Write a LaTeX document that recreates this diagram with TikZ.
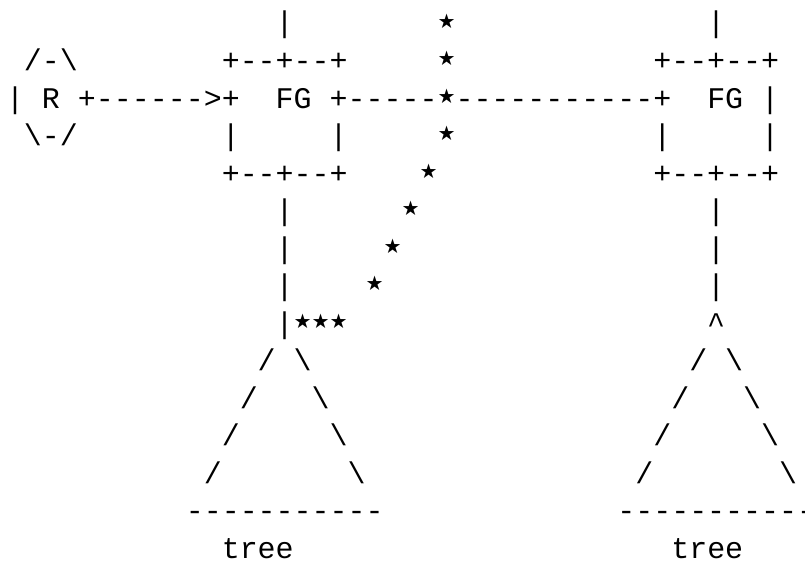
\documentclass[tikz,border=0pt]{standalone}
\usepackage{fontspec}
\newfontfamily\asciimono{Liberation Mono}
\newfontfamily\asciistar{DejaVu Sans}
\newcommand\gch[3]{\node[ch] (g#2x#1) at (#1,#2) {#3};}
\newcommand\gstar[2]{\node[st] (s#2x#1) at (#1,#2-0.24) {⋆};}
\newcommand\gboxrow[2]{%
  \gch{#1}{#2}{+}%
  \foreach \k in {1,2,4,5}{\pgfmathtruncatemacro\cc{#1+\k}\gch{\cc}{#2}{-}}%
  \pgfmathtruncatemacro\cc{#1+3}\gch{\cc}{#2}{+}%
  \pgfmathtruncatemacro\cc{#1+6}\gch{\cc}{#2}{+}}
\begin{document}
\begin{tikzpicture}[x=17.98pt,y=-37.5pt,
  ch/.style={anchor=base,inner sep=0pt,outer sep=0pt,font=\asciimono\fontsize{29.97}{30}\selectfont},
  st/.style={anchor=center,inner sep=0pt,outer sep=0pt,font=\asciistar\fontsize{40}{40}\selectfont},
  wd/.style={anchor=base west,inner sep=0pt,outer sep=0pt,xshift=-8.99pt,font=\asciimono\fontsize{29.97}{30}\selectfont}]
\useasboundingbox[fill=white] (-0.8343,-0.88) rectangle (43.937,14.16);
% row 0
\gch{15}{0}{|} \gstar{24}{0} \gch{39}{0}{|}
% row 1
\gch{1}{1}{/} \gch{2}{1}{-} \gch{3}{1}{\textbackslash}
\gboxrow{12}{1} \gstar{24}{1} \gboxrow{36}{1}
% row 2
\gch{0}{2}{|} \gch{2}{2}{R} \gch{4}{2}{+}
\foreach \c in {5,...,10}{\gch{\c}{2}{-}}
\gch{11}{2}{>} \gch{12}{2}{+}
\node[wd] (fg1) at (15,2) {FG};
\gch{18}{2}{+}
\foreach \c in {19,...,23}{\gch{\c}{2}{-}}
\gstar{24}{2}
\foreach \c in {25,...,35}{\gch{\c}{2}{-}}
\gch{36}{2}{+}
\node[wd] (fg2) at (39,2) {FG};
\gch{42}{2}{|}
% row 3
\gch{1}{3}{\textbackslash} \gch{2}{3}{-} \gch{3}{3}{/}
\gch{12}{3}{|} \gch{18}{3}{|} \gstar{24}{3} \gch{36}{3}{|} \gch{42}{3}{|}
% row 4
\gboxrow{12}{4} \gstar{23}{4} \gboxrow{36}{4}
% rows 5-7
\gch{15}{5}{|} \gstar{22}{5} \gch{39}{5}{|}
\gch{15}{6}{|} \gstar{21}{6} \gch{39}{6}{|}
\gch{15}{7}{|} \gstar{20}{7} \gch{39}{7}{|}
% row 8
\gch{15}{8}{|} \gstar{16}{8} \gstar{17}{8} \gstar{18}{8} \gch{39}{8}{\textasciicircum}
% rows 9-12 trees
\gch{14}{9}{/} \gch{16}{9}{\textbackslash} \gch{38}{9}{/} \gch{40}{9}{\textbackslash}
\gch{13}{10}{/} \gch{17}{10}{\textbackslash} \gch{37}{10}{/} \gch{41}{10}{\textbackslash}
\gch{12}{11}{/} \gch{18}{11}{\textbackslash} \gch{36}{11}{/} \gch{42}{11}{\textbackslash}
\gch{11}{12}{/} \gch{19}{12}{\textbackslash} \gch{35}{12}{/} \gch{43}{12}{\textbackslash}
% row 13
\foreach \c in {10,...,20}{\gch{\c}{13}{-}}
\foreach \c in {34,...,44}{\gch{\c}{13}{-}}
% row 14
\node[wd] (tree1) at (12,14) {tree};
\node[wd] (tree2) at (37,14) {tree};
\end{tikzpicture}
\end{document}
